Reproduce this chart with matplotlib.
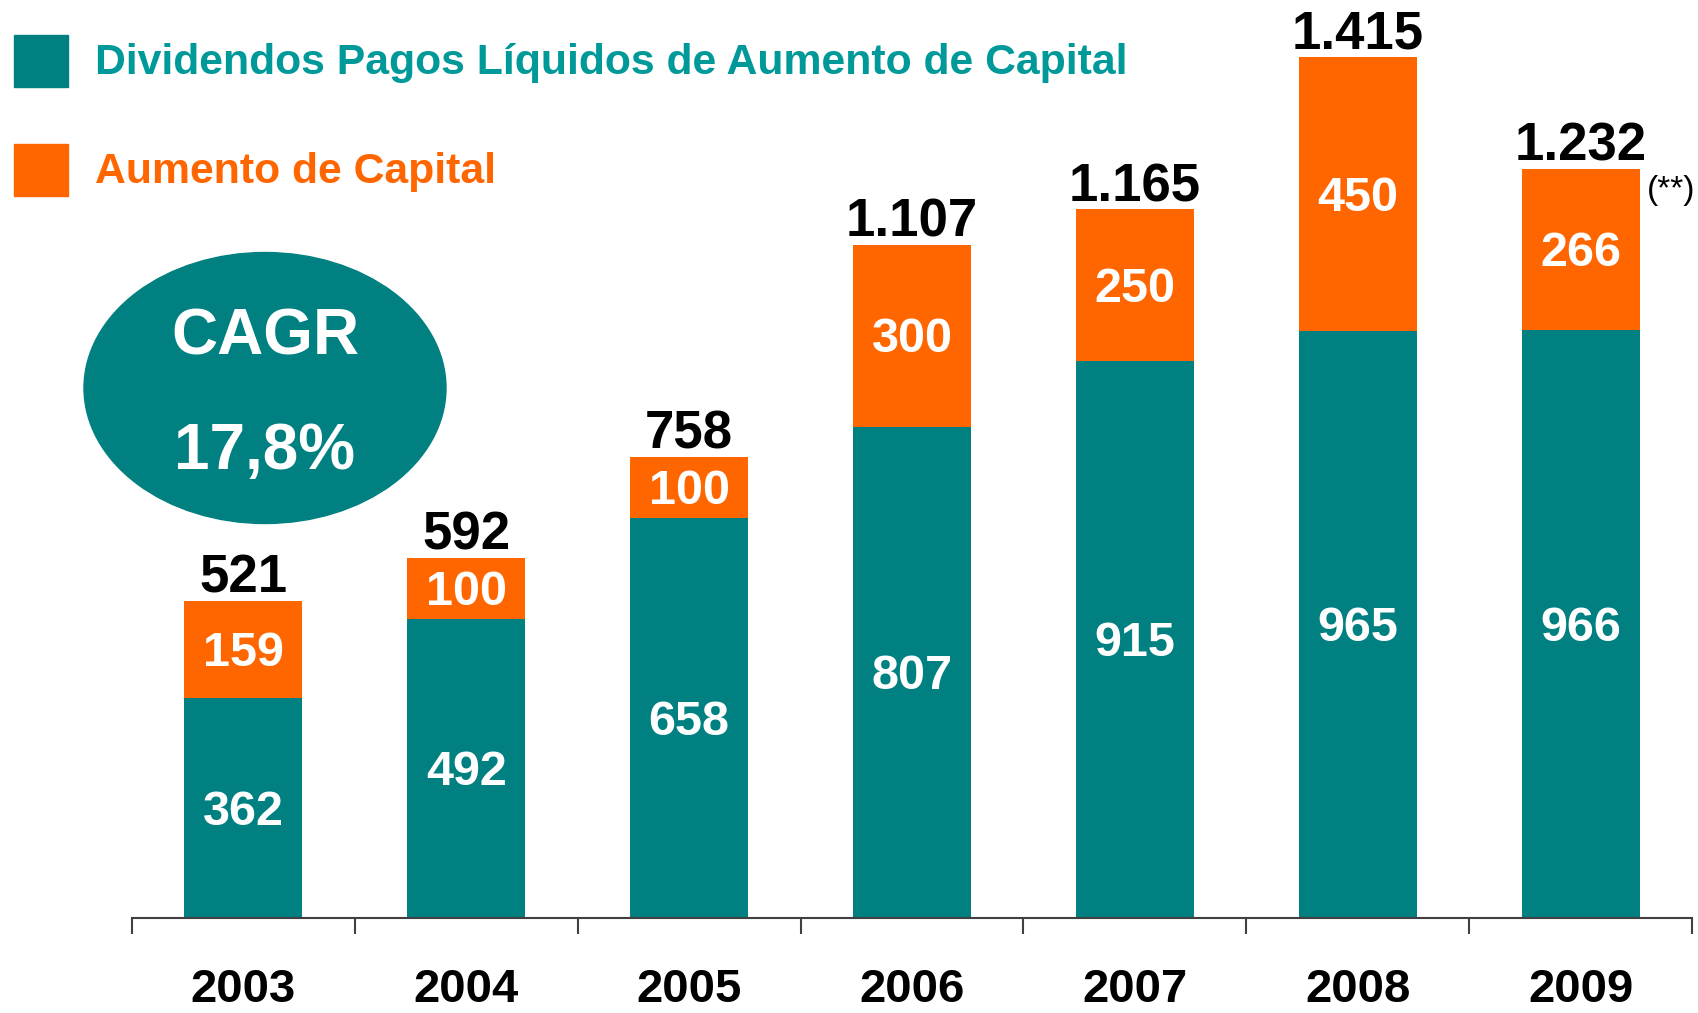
import matplotlib
matplotlib.use('Agg')
import matplotlib.pyplot as plt
from matplotlib.patches import Ellipse, Rectangle

years = ['2003', '2004', '2005', '2006', '2007', '2008', '2009']
dividendos = [362, 492, 658, 807, 915, 965, 966]
aumento = [159, 100, 100, 300, 250, 450, 266]
totais = ['521', '592', '758', '1.107', '1.165', '1.415', '1.232']

TEAL = '#008080'
TEAL_TXT = '#009999'
ORANGE = '#FF6600'
FONT = 'Liberation Sans'

W, H = 1698, 1013
fig = plt.figure(figsize=(W / 100, H / 100), dpi=100)
ax = fig.add_axes([132 / W, (H - 918) / H, (1692 - 132) / W, 918 / H])

x = range(len(years))
ax.bar(x, dividendos, width=0.53, color=TEAL, zorder=2)
ax.bar(x, aumento, bottom=dividendos, width=0.53, color=ORANGE, zorder=2)

for i in x:
    d, a = dividendos[i], aumento[i]
    ax.annotate(str(d), (i, d / 2), xytext=(0, -3), textcoords='offset points',
                ha='center', va='center', color='white',
                fontsize=35, fontweight='bold', family=FONT)
    ax.annotate(str(a), (i, d + a / 2), xytext=(0, -3), textcoords='offset points',
                ha='center', va='center', color='white',
                fontsize=35, fontweight='bold', family=FONT)
    ax.annotate(totais[i], (i, d + a), xytext=(0, -2), textcoords='offset points',
                ha='center', va='bottom', color='black', fontsize=38,
                fontweight='bold', family=FONT)

ax.annotate('(**)', (6, dividendos[6] + aumento[6]), xytext=(48, -16),
            textcoords='offset points', ha='left', va='center',
            fontsize=24, family=FONT)

ax.set_xlim(-0.5, 6.5)
ax.set_ylim(0, 1509)
for s in ['top', 'right', 'left']:
    ax.spines[s].set_visible(False)
ax.spines['bottom'].set_color('#404040')
ax.spines['bottom'].set_linewidth(1.5)
ax.set_yticks([])
ax.set_xticks(list(x))
ax.set_xticklabels(years, fontsize=34, fontweight='bold', family=FONT)
ax.tick_params(axis='x', which='major', length=0, pad=36)
ax.set_xticks([i - 0.5 for i in range(len(years) + 1)], minor=True)
ax.tick_params(axis='x', which='minor', length=11.5, width=1.5, color='#404040')

# legend
fig.patches.append(Rectangle((14 / W, 1 - 87 / H), 54 / W, 52 / H,
                             transform=fig.transFigure, color=TEAL))
fig.patches.append(Rectangle((14 / W, 1 - 196 / H), 54 / W, 52 / H,
                             transform=fig.transFigure, color=ORANGE))
fig.text(95 / W, 1 - 63 / H, 'Dividendos Pagos Líquidos de Aumento de Capital',
         color=TEAL_TXT, fontsize=30.8, fontweight='bold', family=FONT, va='center')
fig.text(95 / W, 1 - 172 / H, 'Aumento de Capital',
         color=ORANGE, fontsize=30.8, fontweight='bold', family=FONT, va='center')

# CAGR bubble
fig.patches.append(Ellipse((265 / W, 1 - 388 / H), 362 / W, 271 / H,
                           transform=fig.transFigure, color=TEAL))
fig.text(265 / W, 1 - 337 / H, 'CAGR', color='white', fontsize=46,
         fontweight='bold', family=FONT, ha='center', va='center')
fig.text(265 / W, 1 - 452 / H, '17,8%', color='white', fontsize=46,
         fontweight='bold', family=FONT, ha='center', va='center')

fig.savefig('out.png', dpi=100)
